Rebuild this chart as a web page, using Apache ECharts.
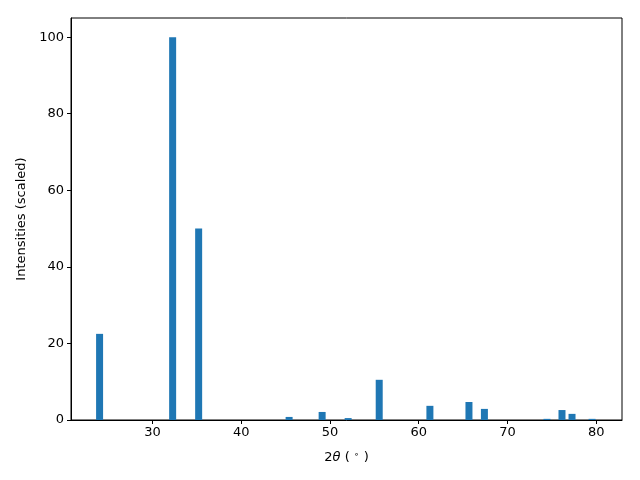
<!DOCTYPE html>
<html><head><meta charset="utf-8">
<script src="https://cdn.jsdelivr.net/npm/echarts@6/dist/echarts.min.js"></script>
<style>html,body{margin:0;padding:0;background:#fff}#c{width:640px;height:480px}</style>
</head><body><div id="c"></div>
<script>
const twoTheta = [24.05, 32.28, 35.21, 45.4, 49.12, 52.05, 55.55, 61.26, 65.66, 67.4, 74.45, 76.14, 77.27, 79.53];
const intensity = [22.5, 100, 50, 0.8, 2.1, 0.5, 10.5, 3.7, 4.7, 2.9, 0.3, 2.6, 1.6, 0.3];
const xTicks = [30, 40, 50, 60, 70, 80];
const yTicks = [0, 20, 40, 60, 80, 100];

const data = twoTheta.map((x, i) => [x, intensity[i]]);
const font = 'DejaVu Sans';
const chart = echarts.init(document.getElementById('c'), null, {renderer: 'canvas'});
chart.setOption({
  animation: false,
  backgroundColor: '#fff',
  grid: {left: 71, right: 18, top: 18, bottom: 60, show: true, borderColor: '#000', borderWidth: 1, backgroundColor: 'transparent'},
  xAxis: {
    type: 'value', min: 20.83, max: 82.9,
    name: '{n|2}{t|θ}{n| ( }{s|∘}{n| )}', nameLocation: 'middle', nameGap: 30,
    nameTextStyle: {rich: {
      n: {fontFamily: font, fontSize: 13, color: '#000'},
      t: {fontFamily: font, fontSize: 13, fontStyle: 'italic', color: '#000'},
      s: {fontFamily: font, fontSize: 9, color: '#000', verticalAlign: 'top', padding: [0, 0, 6, 0]}
    }},
    axisLine: {show: true, onZero: false, lineStyle: {color: '#000', width: 1}},
    axisTick: {show: true, inside: false, length: 4, customValues: xTicks, lineStyle: {color: '#000'}},
    axisLabel: {customValues: xTicks, fontFamily: font, fontSize: 13, color: '#000', margin: 6},
    splitLine: {show: false}
  },
  yAxis: {
    type: 'value', min: 0, max: 105, interval: 20,
    name: 'Intensities (scaled)', nameLocation: 'middle', nameGap: 42,
    nameTextStyle: {fontFamily: font, fontSize: 13, color: '#000'},
    axisLine: {show: true, lineStyle: {color: '#000', width: 1}},
    axisTick: {show: true, length: 4, customValues: yTicks, lineStyle: {color: '#000'}},
    axisLabel: {customValues: yTicks, fontFamily: font, fontSize: 13, color: '#000', margin: 7},
    splitLine: {show: false}
  },
  series: [{
    type: 'bar', data: data, barWidth: 7,
    itemStyle: {color: '#1f77b4'}
  }]
});
</script></body></html>
